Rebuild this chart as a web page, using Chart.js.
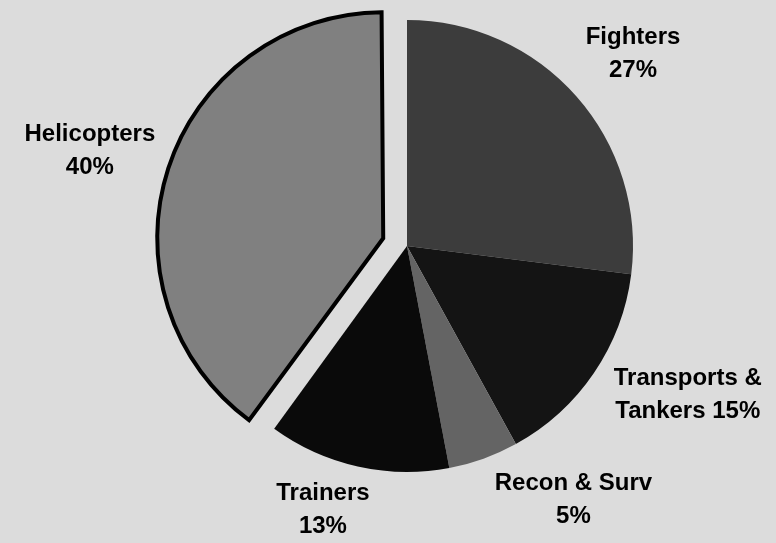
<!DOCTYPE html>
<html>
<head>
<meta charset="utf-8">
<script src="https://cdn.jsdelivr.net/npm/chart.js@4/dist/chart.umd.min.js"></script>
<style>
  html, body { margin: 0; padding: 0; background: #dcdcdc; }
  #wrap { width: 776px; height: 543px; position: relative; }
</style>
</head>
<body>
<div id="wrap"><canvas id="pie"></canvas></div>
<script>
// Share of aircraft by type (percent)
const categories = ['Fighters', 'Transports & Tankers', 'Recon & Surv', 'Trainers', 'Helicopters'];
const shares = [27, 15, 5, 13, 40];
// Two-line text shown beside each slice
const labelLines = [
  ['Fighters', '27%'],
  ['Transports &', 'Tankers 15%'],
  ['Recon & Surv', '5%'],
  ['Trainers', '13%'],
  ['Helicopters', '40%']
];

const sliceColors = ['#3c3c3c', '#141414', '#646464', '#0a0a0a', '#808080'];
// Chart.js moves an arc by offset/4, so 100 pulls the helicopter slice out by 25px
const sliceOffsets = [0, 0, 0, 0, 100];
const sliceBorders = [0, 0, 0, 0, 4];

// Label placement: distance (in radii) from centre and angle nudge (deg) from slice middle
const labelPlacement = [
  { k: 1.313, nudge: 1.0 },
  { k: 1.407, nudge: -6.2 },
  { k: 1.345, nudge: -13.4 },
  { k: 1.227, nudge: 5.05 },
  { k: 1.465, nudge: -1.3 }
];

// Chart.js also grows an offset arc's radius; shrink it back so the
// exploded slice keeps the same size as the rest of the pie.
const keepExplodedRadius = {
  id: 'keepExplodedRadius',
  afterDatasetUpdate(chart, args) {
    const meta = chart.getDatasetMeta(args.index);
    meta.data.forEach((arc) => {
      const off = (arc.options.offset || 0) / 4;
      if (!off) return;
      const fix = 1 - Math.sin(Math.min(Math.PI, arc.circumference || 0));
      arc.outerRadius -= off * fix;
    });
  }
};

const sliceLabels = {
  id: 'sliceLabels',
  afterDatasetsDraw(chart) {
    const ctx = chart.ctx;
    const meta = chart.getDatasetMeta(0);
    const radius = meta.controller.outerRadius;
    ctx.save();
    ctx.fillStyle = '#000';
    ctx.font = 'bold 24px "Liberation Sans", Arial, sans-serif';
    ctx.textAlign = 'center';
    ctx.textBaseline = 'middle';
    const lineGap = 33;
    meta.data.forEach((arc, i) => {
      const p = arc.getProps(['x', 'y', 'startAngle', 'endAngle'], true);
      const mid = (p.startAngle + p.endAngle) / 2 + labelPlacement[i].nudge * Math.PI / 180;
      const d = radius * labelPlacement[i].k;
      const cx = p.x + Math.cos(mid) * d;
      const cy = p.y + Math.sin(mid) * d;
      const lines = labelLines[i];
      lines.forEach((t, j) => {
        const y = cy + (j - (lines.length - 1) / 2) * lineGap;
        ctx.fillText(t, cx, y);
      });
    });
    ctx.restore();
  }
};

new Chart(document.getElementById('pie'), {
  type: 'pie',
  data: {
    labels: categories,
    datasets: [{
      data: shares,
      backgroundColor: sliceColors,
      borderColor: '#000000',
      borderWidth: sliceBorders,
      borderAlign: 'center',
      borderJoinStyle: 'miter',
      offset: sliceOffsets
    }]
  },
  options: {
    responsive: true,
    maintainAspectRatio: false,
    animation: false,
    radius: 226,
    layout: { padding: { left: 38, right: 0, top: 0, bottom: 51 } },
    plugins: {
      legend: { display: false },
      tooltip: { enabled: false }
    }
  },
  plugins: [keepExplodedRadius, sliceLabels]
});
</script>
</body>
</html>
